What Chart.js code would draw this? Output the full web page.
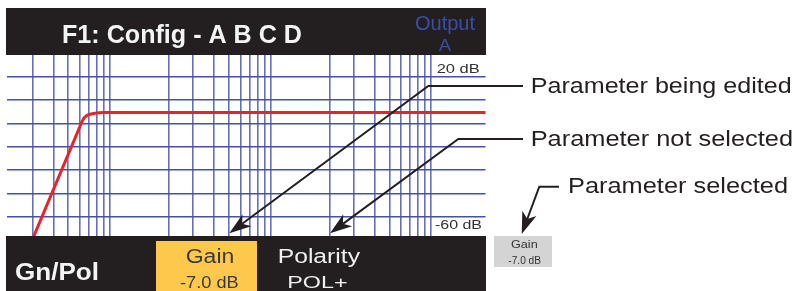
<!DOCTYPE html>
<html>
<head>
<meta charset="utf-8">
<script src="https://cdn.jsdelivr.net/npm/chart.js@4"></script>
<style>
  html, body { margin: 0; padding: 0; background: #fff; }
  #wrap { width: 806px; height: 291px; }
</style>
</head>
<body>
<div id="wrap"><canvas id="chart" width="806" height="291"></canvas></div>
<script>
// frequency grid of the display (Hz) and the filter curve
const gridFreqs = [20, 30, 40, 50, 60, 70, 80, 90,
                   100, 200, 300, 400, 500, 600, 700, 800, 900,
                   1000, 2000, 3000, 4000, 5000, 6000, 7000, 8000, 9000];
const curveFreq = [20, 51.9, 54.3, 57.6, 62.2, 69.5, 78.6, 10000];
const curveDb = [-59.5, -9.6, -7.7, -6.6, -6.0, -5.6, -5.4, -5.4];
const dbMin = -60;
const dbMax = 20;
const dbStep = 10;
const dbLabels = ['20 dB', '-60 dB'];

const screenTitle = 'F1: Config - A B C D';
const outputLabel = ['Output', 'A'];
const menuName = 'Gn/Pol';
const params = [['Gain', '-7.0 dB'], ['Polarity', 'POL+']];
const callouts = ['Parameter being edited', 'Parameter not selected', 'Parameter selected'];

// the device screen squeezes each decade: 2..9 sit closer together, then a gap to the next 10
const LOG2 = Math.log10(2), LOG9 = Math.log10(9);
const G2 = 0.153, G9 = 0.634;
function freqToPos(f) {
    const lf = Math.log10(f);
    const d = Math.floor(lf + 1e-9);
    const lm = lf - d;
    let g;
    if (lm < LOG2) g = lm / LOG2 * G2;
    else if (lm < LOG9) g = G2 + (lm - LOG2) / (LOG9 - LOG2) * (G9 - G2);
    else g = G9 + (lm - LOG9) / (1 - LOG9) * (1 - G9);
    return d - 1 + g;
}

const points = curveFreq.map((f, i) => ({ x: freqToPos(f), y: curveDb[i] }));

function fitText(ctx, text, x, base, w, size, color, weight) {
    ctx.save();
    ctx.font = (weight || 'normal') + ' ' + size + 'px "Liberation Sans", Arial, sans-serif';
    const m = ctx.measureText(text).width;
    ctx.translate(x, base);
    ctx.scale(w / m, 1);
    ctx.fillStyle = color;
    ctx.textBaseline = 'alphabetic';
    ctx.fillText(text, 0, 0);
    ctx.restore();
}

function arrow(ctx, pts) {
    ctx.save();
    ctx.strokeStyle = '#231f20';
    ctx.fillStyle = '#231f20';
    ctx.lineWidth = 2;
    const n = pts.length;
    const tip = pts[n - 1], prev = pts[n - 2];
    const dx = tip[0] - prev[0], dy = tip[1] - prev[1];
    const len = Math.hypot(dx, dy);
    const ux = dx / len, uy = dy / len;
    const L = 22, H = 7.5, N = 6;
    ctx.beginPath();
    ctx.moveTo(pts[0][0], pts[0][1]);
    for (let i = 1; i < n - 1; i++) ctx.lineTo(pts[i][0], pts[i][1]);
    ctx.lineTo(tip[0] - ux * (L - N), tip[1] - uy * (L - N));
    ctx.stroke();
    ctx.beginPath();
    ctx.moveTo(tip[0], tip[1]);
    ctx.lineTo(tip[0] - ux * L - uy * H, tip[1] - uy * L + ux * H);
    ctx.lineTo(tip[0] - ux * (L - N), tip[1] - uy * (L - N));
    ctx.lineTo(tip[0] - ux * L + uy * H, tip[1] - uy * L - ux * H);
    ctx.closePath();
    ctx.fill();
    ctx.restore();
}

const screenPlugin = {
    id: 'screen',
    afterDraw(chart) {
        const ctx = chart.ctx;
        ctx.save();
        // title bar and bottom menu bar
        ctx.fillStyle = '#231f20';
        ctx.fillRect(6, 8, 480, 47);
        ctx.fillRect(6, 236, 480, 55);
        ctx.fillStyle = '#fec84d';
        ctx.fillRect(156, 241, 101, 50);
        ctx.fillStyle = '#d4d4d4';
        ctx.fillRect(494, 236, 58, 31);

        fitText(ctx, screenTitle, 62, 42.7, 240, 26, '#f4f4f4', 'bold');
        fitText(ctx, outputLabel[0], 415, 30, 60, 19.5, '#3b4ea6');
        fitText(ctx, outputLabel[1], 438.7, 51, 12.3, 16.3, '#3b4ea6');

        fitText(ctx, dbLabels[0], 436.7, 73.3, 43, 13.5, '#333');
        fitText(ctx, dbLabels[1], 435, 228.5, 47, 12.5, '#333');

        fitText(ctx, menuName, 15, 280, 84, 24.5, '#f4f4f4', 'bold');
        fitText(ctx, params[0][0], 185.7, 263.3, 48.6, 19.5, '#3a3a3a');
        fitText(ctx, params[0][1], 180, 288, 58.7, 16.5, '#3a3a3a');
        fitText(ctx, params[1][0], 277.7, 262.5, 82.3, 19.5, '#f0f0f0');
        fitText(ctx, params[1][1], 287.3, 288.3, 60.3, 16.5, '#f0f0f0');

        fitText(ctx, params[0][0], 511, 248.3, 26.7, 11, '#333');
        fitText(ctx, params[0][1], 508.3, 264, 32.7, 10, '#333');

        fitText(ctx, callouts[0], 530.7, 92.7, 261, 22, '#231f20');
        fitText(ctx, callouts[1], 530.7, 146, 262.3, 22, '#231f20');
        fitText(ctx, callouts[2], 568, 193.3, 220, 22, '#231f20');

        arrow(ctx, [[523, 86], [428.3, 86], [229.3, 233.3]]);
        arrow(ctx, [[523, 139], [458.3, 139], [330, 233.3]]);
        arrow(ctx, [[559, 186.7], [539.3, 186.7], [521.7, 234]]);
        ctx.restore();
    }
};

new Chart(document.getElementById('chart').getContext('2d'), {
    type: 'line',
    data: {
        datasets: [{
            data: points,
            borderColor: '#e8242b',
            borderWidth: 3,
            pointRadius: 0,
            tension: 0,
            fill: false
        }]
    },
    options: {
        responsive: false,
        animation: false,
        events: [],
        layout: { padding: { left: 6.5, right: 320.5, top: 53.3, bottom: 51 } },
        plugins: { legend: { display: false }, tooltip: { enabled: false } },
        scales: {
            x: {
                type: 'linear',
                min: -0.01,
                max: 2.9726,
                afterBuildTicks: scale => {
                    scale.ticks = gridFreqs.map(f => ({ value: freqToPos(f) }));
                },
                ticks: { display: false },
                grid: { color: '#6670b8', lineWidth: 1.6, drawTicks: false },
                border: { display: false }
            },
            y: {
                min: dbMin,
                max: dbMax,
                ticks: { display: false, stepSize: dbStep },
                grid: { color: '#4650a6', lineWidth: 1.6, drawTicks: false },
                border: { display: false }
            }
        }
    },
    plugins: [screenPlugin]
});
</script>
</body>
</html>
